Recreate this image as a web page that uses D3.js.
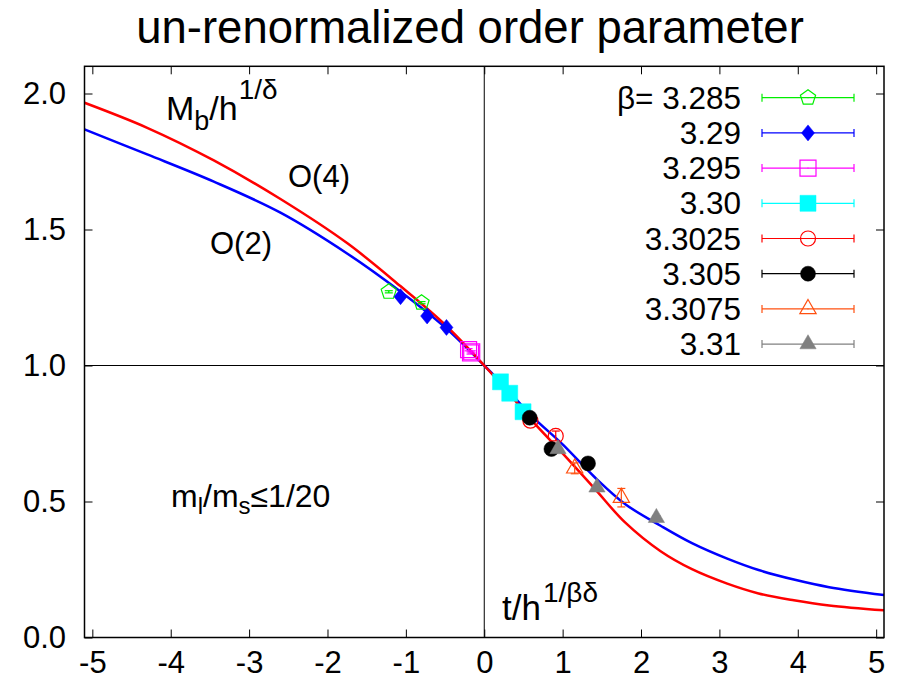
<!DOCTYPE html>
<html>
<head>
<meta charset="utf-8">
<script src="https://cdn.jsdelivr.net/npm/d3@7"></script>
<style>
  body { margin: 0; background: #fff; }
  text { font-family: "Liberation Sans", Arial, sans-serif; fill: #000; }
</style>
</head>
<body>
<div id="chart"></div>
<script>
// scaling curves
var curveX  = [-5.1, -4.3, -3.45, -2.6, -1.75, -1.07, -0.5, 0, 0.3, 0.6, 1.0, 1.4, 1.8, 2.25, 2.65, 3.1, 3.5, 3.95, 4.4, 5.1];
var o4Y     = [1.966, 1.874, 1.754, 1.612, 1.450, 1.292, 1.150, 1.0, 0.903, 0.800, 0.677, 0.550, 0.422, 0.317, 0.251, 0.198, 0.162, 0.137, 0.118, 0.100];
var o2Y     = [1.868, 1.776, 1.676, 1.562, 1.412, 1.272, 1.140, 1.0, 0.910, 0.816, 0.710, 0.592, 0.490, 0.411, 0.347, 0.290, 0.248, 0.213, 0.185, 0.156];

// lattice data, one set per beta
var betas   = ["3.285", "3.29", "3.295", "3.30", "3.3025", "3.305", "3.3075", "3.31"];
var colors  = ["#00ee00", "#0000ff", "#ff00ff", "#00ffff", "#ff0000", "#000000", "#ff5010", "#808080"];
var shapes  = ["pentagon", "diamond", "square", "square", "circle", "circle", "triangle", "triangle"];
var filled  = [false, true, false, true, false, true, false, true];

var xs = [
  [-1.218, -0.80],
  [-1.068, -0.729, -0.482],
  [-0.20, -0.175, -0.16],
  [0.207, 0.325, 0.495],
  [0.589, 0.912],
  [0.58, 0.857, 1.324],
  [1.154, 1.749],
  [0.941, 1.438, 2.196]
];
var ys = [
  [1.271, 1.231],
  [1.253, 1.182, 1.140],
  [1.058, 1.046, 1.050],
  [0.940, 0.898, 0.830],
  [0.797, 0.741],
  [0.808, 0.693, 0.640],
  [0.622, 0.514],
  [0.693, 0.552, 0.440]
];
var errs = [
  [0.004, 0.004],
  [0.004, 0.004, 0.004],
  [0.004, 0.004, 0.004],
  [0.004, 0.004, 0.004],
  [0.008, 0.018],
  [0.004, 0.004, 0.004],
  [0.02, 0.034],
  [0.006, 0.006, 0.008]
];

var xTicks = [-5, -4, -3, -2, -1, 0, 1, 2, 3, 4, 5];
var yTicks = [0, 0.5, 1.0, 1.5, 2.0];

var width = 897, height = 682;
var pLeft = 84.5, pRight = 884, pTop = 66.3, pBottom = 637.5;

var svg = d3.select("#chart")
    .append("svg")
    .attr("width", width)
    .attr("height", height);

var x = d3.scaleLinear().domain([-5.1, 5.1]).range([pLeft, pRight]);
var y = d3.scaleLinear().domain([0, 2.1]).range([pBottom, pTop]);

// title
svg.append("text")
    .attr("x", 470)
    .attr("y", 43)
    .attr("text-anchor", "middle")
    .attr("font-size", "45.5px")
    .text("un-renormalized order parameter");

// zero lines
svg.append("line")
    .attr("x1", x(0)).attr("x2", x(0))
    .attr("y1", pTop).attr("y2", pBottom)
    .attr("stroke", "#000").attr("stroke-width", 1);
svg.append("line")
    .attr("x1", pLeft).attr("x2", pRight)
    .attr("y1", y(1)).attr("y2", y(1))
    .attr("stroke", "#000").attr("stroke-width", 1);

// axes, ticks pointing inwards on all sides
var tickLen = 8;
var fmtY = d3.format(".1f");
var fontFam = "Liberation Sans, Arial, sans-serif";

svg.append("g")
    .attr("transform", "translate(0," + pBottom + ")")
    .call(d3.axisBottom(x).tickValues(xTicks).tickSize(-tickLen).tickPadding(13).tickFormat(d => d < 0 ? "-" + Math.abs(d) : "" + d))
    .call(g => g.select(".domain").remove())
    .call(g => g.selectAll("text").attr("font-size", "31px").attr("font-family", fontFam).attr("fill", "#000"));

svg.append("g")
    .attr("transform", "translate(0," + pTop + ")")
    .call(d3.axisTop(x).tickValues(xTicks).tickSize(-tickLen).tickFormat(""))
    .call(g => g.select(".domain").remove());

svg.append("g")
    .attr("transform", "translate(" + pLeft + ",0)")
    .call(d3.axisLeft(y).tickValues(yTicks).tickSize(-tickLen).tickPadding(18.5).tickFormat(fmtY))
    .call(g => g.select(".domain").remove())
    .call(g => g.selectAll("text").attr("font-size", "31px").attr("font-family", fontFam).attr("fill", "#000"));

svg.append("g")
    .attr("transform", "translate(" + pRight + ",0)")
    .call(d3.axisRight(y).tickValues(yTicks).tickSize(-tickLen).tickFormat(""))
    .call(g => g.select(".domain").remove());

svg.selectAll(".tick line").attr("stroke", "#000").attr("stroke-width", 1);

// curves
var line = d3.line()
    .x(d => x(d[0]))
    .y(d => y(d[1]))
    .curve(d3.curveCatmullRom.alpha(0.5));

svg.append("path")
    .datum(curveX.map((v, i) => [v, o2Y[i]]))
    .attr("d", line)
    .attr("fill", "none")
    .attr("stroke", "#0000ff")
    .attr("stroke-width", 2.5);

svg.append("path")
    .datum(curveX.map((v, i) => [v, o4Y[i]]))
    .attr("d", line)
    .attr("fill", "none")
    .attr("stroke", "#ff0000")
    .attr("stroke-width", 2.5);

// marker drawing
var pentagon = (r) => {
    var pts = d3.range(5).map(k => {
        var a = -Math.PI / 2 + k * 2 * Math.PI / 5;
        return [r * Math.cos(a), r * Math.sin(a)];
    });
    return "M" + pts.join("L") + "Z";
};

var markerPath = (shape) => {
    if (shape == "pentagon") return pentagon(8);
    if (shape == "diamond") return "M0,-8L6.5,0L0,8L-6.5,0Z";
    if (shape == "square") return "M-8,-8L8,-8L8,8L-8,8Z";
    if (shape == "circle") return d3.symbol(d3.symbolCircle, Math.PI * 7.5 * 7.5)();
    return d3.symbol(d3.symbolTriangle, 115)();
};

var drawMarker = (g, i, cx, cy) => {
    g.append("path")
        .attr("d", markerPath(shapes[i]))
        .attr("transform", "translate(" + cx + "," + cy + ")")
        .attr("fill", filled[i] ? colors[i] : "none")
        .attr("stroke", colors[i])
        .attr("stroke-width", filled[i] ? 0.5 : 1.2);
    if (!filled[i]) {
        g.append("rect")
            .attr("x", cx - 0.5).attr("y", cy - 0.5)
            .attr("width", 1).attr("height", 1)
            .attr("fill", colors[i]);
    }
};

// data points with error bars
var pointsLayer = svg.append("g");
betas.forEach((b, i) => {
    xs[i].forEach((xv, j) => {
        var cx = x(xv), cy = y(ys[i][j]);
        var e0 = y(ys[i][j] - errs[i][j]), e1 = y(ys[i][j] + errs[i][j]);
        pointsLayer.append("line")
            .attr("x1", cx).attr("x2", cx).attr("y1", e0).attr("y2", e1)
            .attr("stroke", colors[i]).attr("stroke-width", 1.2);
        [e0, e1].forEach(ev => {
            pointsLayer.append("line")
                .attr("x1", cx - 4).attr("x2", cx + 4).attr("y1", ev).attr("y2", ev)
                .attr("stroke", colors[i]).attr("stroke-width", 1.2);
        });
        drawMarker(pointsLayer, i, cx, cy);
    });
});

// legend
var legend = svg.append("g");
var rowY = (i) => 97.7 + i * 35.2;
betas.forEach((b, i) => {
    var ry = rowY(i);
    legend.append("text")
        .attr("x", 741)
        .attr("y", ry + 11)
        .attr("text-anchor", "end")
        .attr("font-size", "31.5px")
        .text(i == 0 ? "\u03B2= " + b : b);
    legend.append("line")
        .attr("x1", 762).attr("x2", 854).attr("y1", ry).attr("y2", ry)
        .attr("stroke", colors[i]).attr("stroke-width", 1.2);
    [762, 854].forEach(ex => {
        legend.append("line")
            .attr("x1", ex).attr("x2", ex).attr("y1", ry - 4).attr("y2", ry + 4)
            .attr("stroke", colors[i]).attr("stroke-width", 1.2);
    });
    drawMarker(legend, i, 808, ry);
});

// annotations
var lab = svg.append("text").attr("x", 166).attr("y", 120).attr("font-size", "34px");
lab.append("tspan").text("M");
lab.append("tspan").attr("font-size", "27px").attr("dy", 10).text("b");
lab.append("tspan").attr("dy", -10).text("/h");
lab.append("tspan").attr("font-size", "28px").attr("dy", -21).attr("dx", 1).text("1/\u03B4");

var tlab = svg.append("text").attr("x", 502).attr("y", 620).attr("font-size", "35px");
tlab.append("tspan").text("t/h");
tlab.append("tspan").attr("font-size", "28px").attr("dy", -18).attr("dx", 2).text("1/\u03B2\u03B4");

var mlab = svg.append("text").attr("x", 171).attr("y", 507).attr("font-size", "32px");
mlab.append("tspan").text("m");
mlab.append("tspan").attr("font-size", "24px").attr("dy", 7).text("l");
mlab.append("tspan").attr("dy", -7).text("/m");
mlab.append("tspan").attr("font-size", "24px").attr("dy", 7).text("s");
mlab.append("tspan").attr("dy", -7).text("\u22641/20");

svg.append("text").attr("x", 288).attr("y", 187).attr("font-size", "31px").text("O(4)");
svg.append("text").attr("x", 210).attr("y", 254).attr("font-size", "31px").text("O(2)");

// frame
svg.append("rect")
    .attr("x", pLeft).attr("y", pTop)
    .attr("width", pRight - pLeft).attr("height", pBottom - pTop)
    .attr("fill", "none")
    .attr("stroke", "#000")
    .attr("stroke-width", 1.5);
</script>
</body>
</html>
